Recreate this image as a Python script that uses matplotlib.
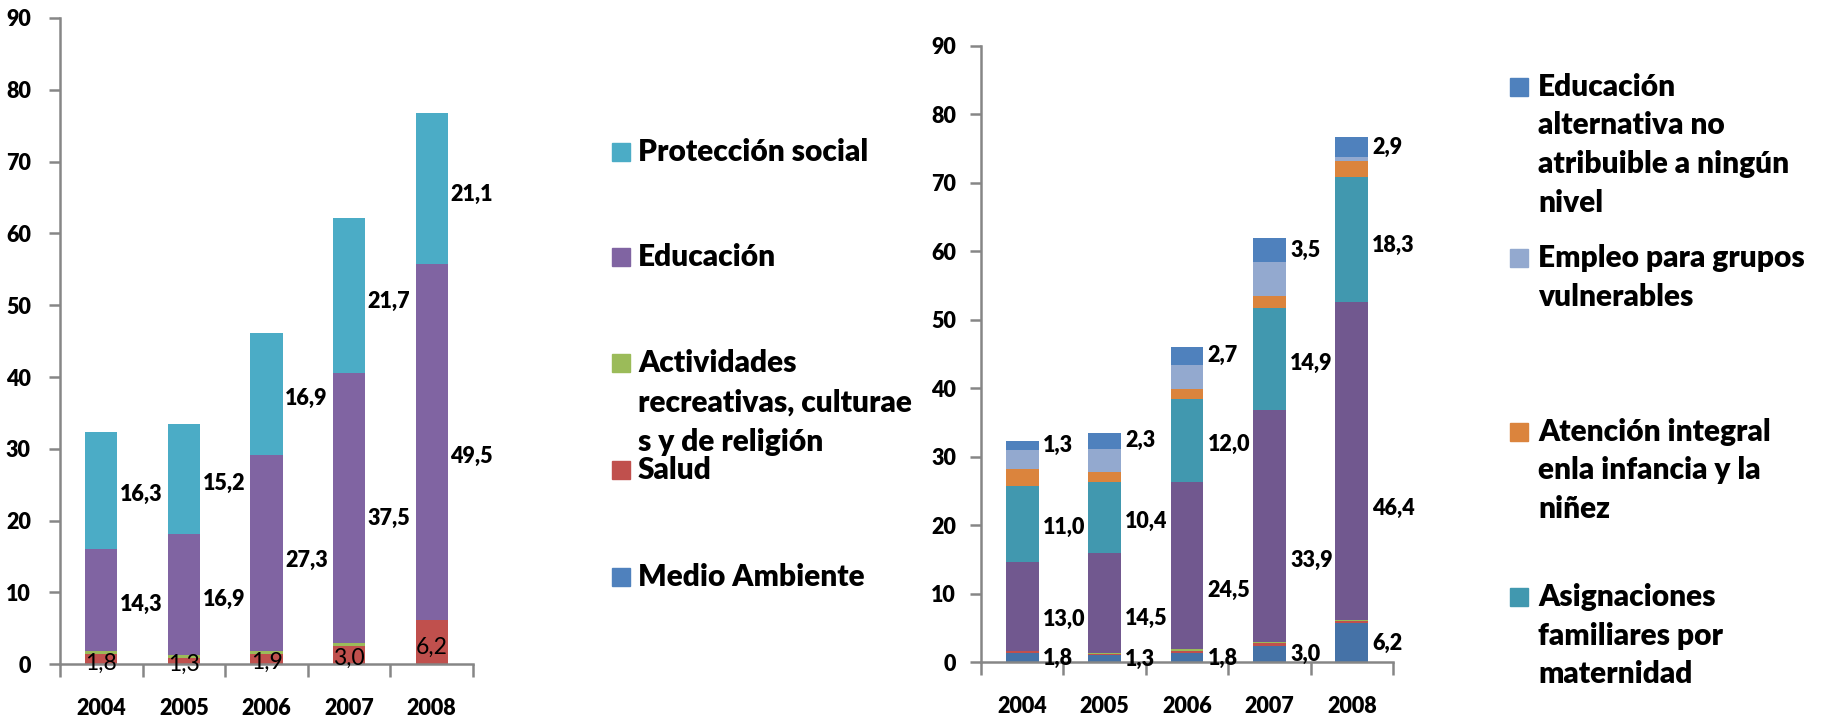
import matplotlib
matplotlib.use("Agg")
import matplotlib.pyplot as plt
import numpy as np

plt.rcParams["font.family"] = ["Lato", "DejaVu Sans"]
plt.rcParams["font.weight"] = "heavy"

# ---- data ----
anios = ["2004", "2005", "2006", "2007", "2008"]

# left chart (bottom -> top)
medio_ambiente = [0.0, 0.0, 0.0, 0.0, 0.0]
salud = [1.5, 0.9, 1.5, 2.6, 6.1]
actividades = [0.3, 0.4, 0.4, 0.4, 0.1]
educacion = [14.3, 16.9, 27.3, 37.5, 49.5]
proteccion = [16.3, 15.2, 16.9, 21.7, 21.1]
base_izq = [1.8, 1.3, 1.9, 3.0, 6.2]

# right chart (bottom -> top)
d_azul = [1.3, 1.0, 1.4, 2.4, 5.7]
d_rojo = [0.3, 0.2, 0.25, 0.35, 0.3]
d_verde = [0.1, 0.2, 0.25, 0.25, 0.2]
d_educ = [13.0, 14.5, 24.5, 33.9, 46.4]
d_asign = [11.0, 10.4, 12.0, 14.9, 18.3]
d_atenc = [2.6, 1.5, 1.5, 1.7, 2.3]
d_empleo = [2.7, 3.4, 3.5, 4.9, 0.6]
d_altern = [1.3, 2.3, 2.7, 3.5, 2.9]
base_der = [1.8, 1.3, 1.8, 3.0, 6.2]

ley_izq = ["Protección social", "Educación",
           "Actividades\nrecreativas, culturae\ns y de religión", "Salud", "Medio Ambiente"]
ley_der = ["Educación\nalternativa no\natribuible a ningún\nnivel",
           "Empleo para grupos\nvulnerables",
           "Atención integral\nenla infancia y la\nniñez",
           "Asignaciones\nfamiliares por\nmaternidad"]

W, H = 1829, 724
GRIS = "#868686"
fs_tick = 15.5
fs_lab = 15.5
fs_ley = 21.5


def fmt(v):
    return "{:.1f}".format(v).replace(".", ",")


def estilo(ax, ypad):
    ax.set_xlim(-0.5, 4.5)
    ax.set_ylim(0, 90)
    for s in ["top", "right"]:
        ax.spines[s].set_visible(False)
    for s in ["left", "bottom"]:
        ax.spines[s].set_color(GRIS)
        ax.spines[s].set_linewidth(1.8)
    ax.set_yticks(range(0, 91, 10))
    ax.tick_params(axis="y", length=8, width=1.8, color=GRIS, pad=ypad, labelsize=fs_tick)
    ax.set_xticks(np.arange(6) - 0.5)
    ax.set_xticklabels([])
    ax.set_xticks(range(5), minor=True)
    ax.set_xticklabels(anios, minor=True)
    ax.tick_params(axis="x", which="major", length=9, width=1.8, color=GRIS)
    ax.tick_params(axis="x", which="minor", length=0, pad=24, labelsize=fs_tick)


def apilar(ax, series, colores, ancho):
    x = np.arange(5)
    bottom = np.zeros(5)
    bases = []
    for vals, c in zip(series, colores):
        vals = np.array(vals)
        ax.bar(x, vals, ancho, bottom=bottom, color=c, linewidth=0)
        bases.append(bottom.copy())
        bottom = bottom + vals
    return bases


fig = plt.figure(figsize=(W / 100, H / 100), dpi=100)

# ---- left chart ----
ax1 = fig.add_axes([60 / W, 1 - 664.3 / H, 413 / W, (664.3 - 18) / H])
estilo(ax1, 13)
w1 = 0.39
col_izq = ["#4F81BD", "#C0504D", "#9BBB59", "#8064A2", "#4BACC6"]
b1 = apilar(ax1, [medio_ambiente, salud, actividades, educacion, proteccion], col_izq, w1)
for i in range(5):
    ax1.text(i, base_izq[i] / 2 - 0.7, fmt(base_izq[i]), ha="center", va="center",
             fontsize=fs_lab + 1, fontweight="normal")
    ax1.text(i + w1 / 2 + 0.03, b1[3][i] + educacion[i] * 0.46, fmt(educacion[i]),
             ha="left", va="center", fontsize=fs_lab)
    ax1.text(i + w1 / 2 + 0.03, b1[4][i] + proteccion[i] * 0.46, fmt(proteccion[i]),
             ha="left", va="center", fontsize=fs_lab)

# ---- right chart ----
ax2 = fig.add_axes([981 / W, 1 - 662.3 / H, 412 / W, (662.3 - 46) / H])
estilo(ax2, 10)
w2 = 0.40
col_der = ["#4572A7", "#C0504D", "#9BBB59", "#71588F", "#4198AF", "#DB843D", "#93A9CF", "#4F81BD"]
b2 = apilar(ax2, [d_azul, d_rojo, d_verde, d_educ, d_asign, d_atenc, d_empleo, d_altern],
            col_der, w2)
for i in range(5):
    xl = i + w2 / 2 + 0.05
    ax2.text(xl, base_der[i] / 2 - 0.3, fmt(base_der[i]), ha="left", va="center", fontsize=fs_lab)
    ax2.text(xl, b2[3][i] + d_educ[i] * 0.35, fmt(d_educ[i]), ha="left", va="center", fontsize=fs_lab)
    ax2.text(xl, b2[4][i] + d_asign[i] * 0.45, fmt(d_asign[i]), ha="left", va="center", fontsize=fs_lab)
    ax2.text(xl, b2[7][i] + d_altern[i] * 0.5, fmt(d_altern[i]), ha="left", va="center", fontsize=fs_lab)


# ---- legends (drawn by hand, Excel style) ----
def leyenda(etiquetas, colores, ys, xm, xt, paso):
    for txt, c, y0 in zip(etiquetas, colores, ys):
        fig.patches.append(plt.Rectangle((xm / W, 1 - (y0 + 9) / H), 18 / W, 18 / H,
                                         transform=fig.transFigure, color=c, figure=fig))
        for k, linea in enumerate(txt.split("\n")):
            fig.text(xt / W, 1 - (y0 + k * paso) / H, linea, ha="left", va="center",
                     fontsize=fs_ley)


leyenda(ley_izq, col_izq[::-1], [151.7, 256.7, 363, 470, 576.7], 612, 638, 39.3)
leyenda(ley_der, ["#4F81BD", "#93A9CF", "#DB843D", "#4198AF"],
        [86.7, 258.3, 431.7, 596.7], 1510, 1538, 38.8)

fig.savefig("out.png", dpi=100)
